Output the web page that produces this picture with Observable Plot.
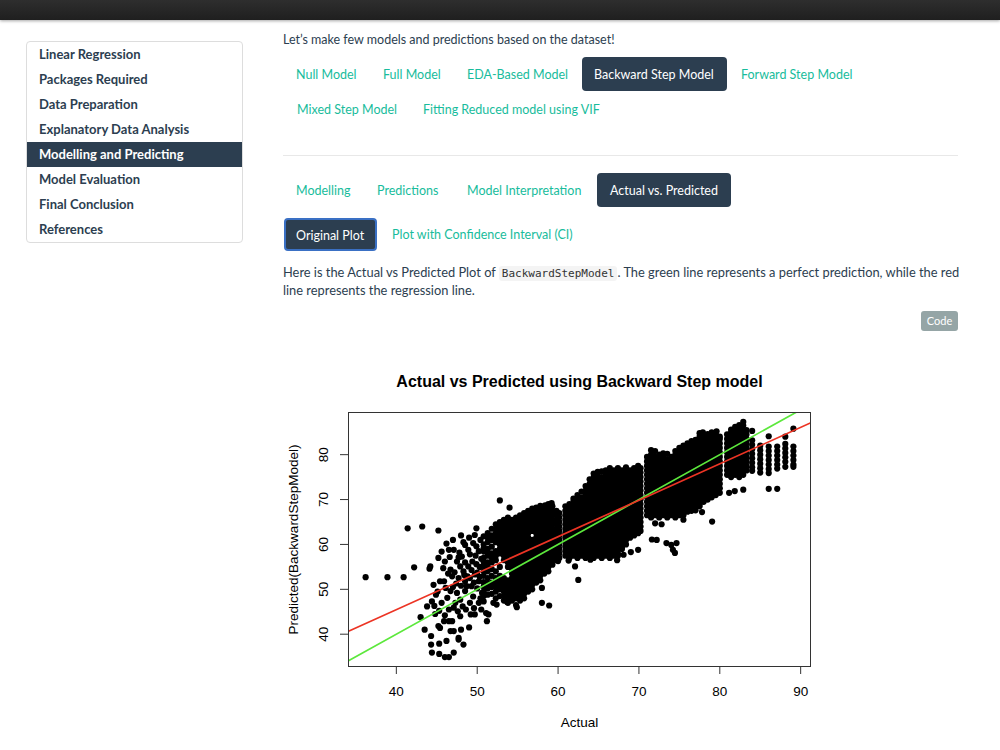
<!DOCTYPE html>
<html><head><meta charset="utf-8">
<script src="https://cdn.jsdelivr.net/npm/d3@7"></script>
<script src="https://cdn.jsdelivr.net/npm/@observablehq/plot@0.6"></script>
<style>
body{margin:0;width:1000px;height:750px;overflow:hidden;background:#fff;font-family:Lato,"Noto Sans",sans-serif;color:#2c3e50;position:relative}
.abs{position:absolute;white-space:nowrap}
.t{position:absolute;white-space:nowrap;font-size:12.5px;line-height:16px;margin-top:1px}
.link{color:#18bc9c}
.pill{position:absolute;background:#2c3e50;border-radius:4px;color:#fff;font-size:12.5px;display:flex;align-items:center;box-sizing:border-box;white-space:nowrap;padding-top:1px}
#navbar{position:absolute;left:0;top:0;width:1000px;height:20px;background:linear-gradient(#2e2e2e,#1f1f1f);box-shadow:0 1px 3px rgba(0,0,0,.35);z-index:5}
#side{position:absolute;left:26px;top:41px;width:217px;height:202px;border:1px solid #ddd;border-radius:4px;box-sizing:border-box}
.si{position:absolute;left:0;width:215px;height:25px;font-size:13px;font-weight:700;line-height:25px;padding-left:12px;box-sizing:border-box;color:#2c3e50}
.si.active{background:#2c3e50;color:#fff}
code{font-family:"DejaVu Sans Mono",monospace;font-size:11px;background:#f4f4f4;padding:1px 3px;border-radius:3px;color:#333}
</style></head>
<body>
<div id="navbar"></div>
<div id="side"></div>

<div class="t" style="left:283px;top:31px">Let’s make few models and predictions based on the dataset!</div>

<div class="t link" style="left:296px;top:66px">Null Model</div>
<div class="t link" style="left:383px;top:66px">Full Model</div>
<div class="t link" style="left:467px;top:66px">EDA-Based Model</div>
<div class="pill" style="left:582px;top:57px;width:145px;height:34px;padding-left:12px">Backward Step Model</div>
<div class="t link" style="left:741px;top:66px">Forward Step Model</div>
<div class="t link" style="left:297px;top:101px">Mixed Step Model</div>
<div class="t link" style="left:423px;top:101px">Fitting Reduced model using VIF</div>

<div class="abs" style="left:283px;top:155px;width:675px;height:1px;background:#e8e8e8"></div>

<div class="t link" style="left:296px;top:182px">Modelling</div>
<div class="t link" style="left:377px;top:182px">Predictions</div>
<div class="t link" style="left:467px;top:182px">Model Interpretation</div>
<div class="pill" style="left:597px;top:173px;width:134px;height:34px;padding-left:13px">Actual vs. Predicted</div>

<div class="pill" style="left:284px;top:218px;width:93px;height:33px;padding-left:10px;border:2px solid #3a70c4">Original Plot</div>
<div class="t link" style="left:392px;top:226px">Plot with Confidence Interval (CI)</div>

<div class="t" style="left:283px;top:263px;font-size:12.85px;color:#2c3e50">Here is the Actual vs Predicted Plot of <code>BackwardStepModel</code>. The green line represents a perfect prediction, while the red</div>
<div class="t" style="left:283px;top:281px;font-size:12.85px;color:#2c3e50">line represents the regression line.</div>

<div class="abs" style="left:921px;top:311px;width:37px;height:20px;background:#95a5a6;border-radius:3px;color:#fff;font-size:11px;line-height:20px;text-align:center">Code</div>

<div id="chart" style="position:absolute;left:268px;top:360px"></div>

<script>
// ---- page text ----
const sidebarItems = ["Linear Regression","Packages Required","Data Preparation","Explanatory Data Analysis","Modelling and Predicting","Model Evaluation","Final Conclusion","References"];
const activeSidebar = "Modelling and Predicting";

// ---- chart text ----
const chartTitle = "Actual vs Predicted using Backward Step model";
const xLabel = "Actual";
const yLabel = "Predicted(BackwardStepModel)";
const xTicks = [40, 50, 60, 70, 80, 90];
const yTicks = [40, 50, 60, 70, 80];

// regression line (red): predicted = a + b * actual ; green line: predicted = actual
const regIntercept = 13.0;
const regSlope = 0.812;

// ---- scatter values (actual, predicted) ----
const scatteredLow = `36.2 52.7,38.9 52.7,40.9 52.7,41.4 63.6,43.2 64.0,45.2 63.1,42.2 54.9,44.1 54.6,44.2 55.1,43.0 43.8,43.5 41.0,44.3 39.6,44.3 37.7,44.4 35.9,45.3 37.9,45.3 35.6,46.0 34.9,46.5 34.9,47.1 35.9,48.3 37.7,47.7 39.2,46.7 40.7,45.2 41.8,45.9 42.9,46.9 42.9,47.9 44.0,49.2 44.4,49.7 44.4,44.4 47.3,43.8 46.2,44.9 48.8,45.6 47.0,46.3 48.1,46.5 45.5,47.1 45.9,46.7 49.6,47.5 49.2,47.9 47.7,48.5 49.6,45.4 51.8,45.9 51.8,46.9 52.9,45.8 54.7,46.7 54.4,45.2 57.0,45.6 58.4,46.5 58.8,47.1 58.8,46.0 56.2,47.5 56.2,48.1 57.3,48.5 59.9,48.9 58.8,49.5 60.3,49.7 62.1,49.9 63.6,48.3 54.0,48.9 55.1,49.1 52.5,49.7 53.3,50.2 51.8,49.3 50.7,48.5 51.8,49.5 48.4,50.6 49.2,50.2 47.0,48.7 50.7,47.7 52.5,47.9 55.1,49.0 41.5,48.0 41.0,46.2 38.5,44.8 44.5,47.3 47.0,48.2 46.2,49.8 57.5,49.4 56.2,50.3 55.0,50.2 58.5,47.0 61.0,48.0 62.0,49.0 61.5,50.4 61.0,45.4 41.4,46.5 42.9,47.7 38.8,47.1 40.7,51.4 44.4,47.0 50.5,47.4 51.3,48.0 50.8,48.8 52.9,49.3 54.3,49.9 55.6,50.0 53.7,49.6 51.5,48.4 53.2,47.2 53.8,46.4 53.5,46.1 50.3,45.1 49.5,44.6 51.0,47.8 58.2,48.3 60.5,47.7 57.1,49.1 57.8,49.9 59.6,46.2 60.2,46.6 57.2,48.5 56.0,50.0 50.2,50.4 48.0,49.1 47.0,48.6 45.5,47.6 45.1,46.0 44.2,45.3 45.2,44.7 46.3,49.6 45.8,50.5 45.5,50.3 52.8,50.5 56.8`;
const scatteredMid = `52.8 69.8,54.0 68.2,58.0 47.0,58.9 46.4,54.9 46.0,53.7 47.2,52.4 46.6,52.0 47.0,51.1 44.7,51.2 42.9,56.8 67.3,57.6 68.1,58.4 68.7,59.2 69.2,58.0 50.3,60.0 56.3,62.1 55.1,62.5 52.1,68.1 57.7,69.0 58.3,69.9 58.8,67.3 56.5,64.0 56.6,61.3 56.4`;
const scatteredHigh = `71.6 61.1,72.2 61.0,73.4 60.3,74.0 59.9,74.65 60.3,74.2 58.8,74.45 58.1,79.05 65.1,72.0 64.7,72.8 64.5,75.5 65.5,77.8 67.2,71.5 81.0,77.9 85.0,79.6 85.2,81.15 71.5,81.85 71.9,82.9 72.2`;

// dense stacks: "actual: predicted predicted ..."
const stacks = `
50.8: 47.3 48.5 49.5 50.6 51.6 53 54 55.2 56.1 57 58.4 59.2 60 61.8
51.3: 48.8 50.2 51.3 52.5 54 55 56 57.5 58.2 59 60.5 61.5 62.5
51.8: 49 50.5 51.5 53 54.5 56 57 58 59.5 61 62 63.5
52.3: 48 49.5 50.5 51.5 52.5 54 56.5 57.5 58.5 60.5 61.5 62.5 63.5 64.5
52.8: 48.5 50 51 52 53 55 58 59 60 61 62 63 64 65
53.3: 47.5 48.5 49.5 50.5 51.5 52.5 56.5 57.5 58.5 59.5 60.5 61.5 62.5 63.5 64.5 65.5
53.8: 47 48 49 50 51 52 55 56 57 58 59 60 61 62 63 64 65 66
54.3: 47.5 48.5 49.5 50.5 51.5 52.5 53.5 54.5 55.5 56.5 57.5 58.5 59.5 60.5 61.5 62.5 63.5 64.5 65.5
54.8: 46.5 48 49 50 51 52 53 54 55 56 57 58 59 60 61 62 63 64 65 66
55.3: 47.5 48.5 49.5 50.5 51.5 52.5 53.5 54.5 55.5 56.5 57.5 58.5 59.5 60.5 61.5 62.5 63.5 64.5 65.5 66.5
55.8: 48 49 50 51 52 53 54 55 56 57 58 59 60 61 62 63 64 65 66 67
56.3: 49.5 50.5 51.5 52.5 53.5 54.5 55.5 56.5 57.5 58.5 59.5 60.5 61.5 62.5 63.5 64.5 65.5 66.5 67.5
56.8: 50 51 52 53 54 55 56 57 58 59 60 61 63 64 65 66 67 68
57.3: 51.5 52.5 53.5 54.5 55.5 56.5 57.5 58.5 59.5 60.5 61.5 62.5 63.5 64.5 65.5 66.5 67.5 68.2
57.8: 52 53 54 55 56 57 58 59 60 61 62 63 64 65 66 67 68 68.6
58.3: 53.5 54.5 55.5 56.5 57.5 58.5 59.5 60.5 61.5 62.5 63.5 64.5 65.5 66.5 67.5 68.5
58.8: 54 55 56 57 58 59 60 61 62 63 64 65 66 67 68 69
59.3: 55.5 56.5 57.5 58.5 59.5 60.5 61.5 62.5 63.5 64.5 65.5 66.5 67.5 68.5
59.8: 56.5 57.5 58.5 59.5 60.5 61.5 62.5 63.5 64.5 65.5 66.5 67.5
60.15: 57 58 59 60 61 62 63 64 65 66 67
60.9: 57.5 58.5 59.5 60.5 61.5 62.5 63.5 64.5 65.5 66.5 67.5 68.5
61.4: 57 58 59 60 61 62 63 64 65 66 67 68 69
61.9: 57.5 58.5 59.5 60.5 61.5 62.5 63.5 64.5 65.5 66.5 67.5 68.5 69.5 70.2
62.4: 57 58 59 60 61 62 63 64 65 66 67 68 69 70 71
62.9: 57.5 58.5 59.5 60.5 61.5 62.5 63.5 64.5 65.5 66.5 67.5 68.5 69.5 70.5 71.8
63.4: 57 58 59 60 61 62 63 64 65 66 67 68 69 70 71 72 73
63.9: 57.5 58.5 59.5 60.5 61.5 62.5 63.5 64.5 65.5 66.5 67.5 68.5 69.5 70.5 71.5 72.5 73.5 74.5
64.4: 57 58 59 60 61 62 63 64 65 66 67 68 69 70 71 72 73 74 75 75.8
64.9: 57.5 58.5 59.5 60.5 61.5 62.5 63.5 64.5 65.5 66.5 67.5 68.5 69.5 70.5 71.5 72.5 73.5 74.5 75.5 76.2
65.4: 57 58 59 60 61 62 63 64 65 66 67 68 69 70 71 72 73 74 75 76.3
65.9: 57.5 58.5 59.5 60.5 61.5 62.5 63.5 64.5 65.5 66.5 67.5 68.5 69.5 70.5 71.5 72.5 73.5 74.5 75.5 76.5
66.4: 57 58 59 60 61 62 63 64 65 66 67 68 69 70 71 72 73 74 75 76 77
66.9: 57.5 58.5 59.5 60.5 61.5 62.5 63.5 64.5 65.5 66.5 67.5 68.5 69.5 70.5 71.5 72.5 73.5 74.5 75.5 76.5
67.4: 57.5 58 59 60 61 62 63 64 65 66 67 68 69 70 71 72 73 74 75 76 77
67.9: 59 59.5 60.5 61.5 62.5 63.5 64.5 65.5 66.5 67.5 68.5 69.5 70.5 71.5 72.5 73.5 74.5 75.5 76.5
68.4: 60 61 62 63 64 65 66 67 68 69 70 71 72 73 74 75 76 77.2
68.9: 61.5 62.5 63.5 64.5 65.5 66.5 67.5 68.5 69.5 70.5 71.5 72.5 73.5 74.5 75.5 76.5
69.4: 62 63 64 65 66 67 68 69 70 71 72 73 74 75 76 77
69.9: 62.5 63.5 64.5 65.5 66.5 67.5 68.5 69.5 70.5 71.5 72.5 73.5 74.5 75.5 76.5 77.5
70.2: 63 64 65 66 67 68 69 70 71 72 73 74 75 76 77
71.0: 66.5 67.5 68.5 69.5 70.5 71.5 72.5 73.5 74.5 75.5 76.5 77.5 78.5 79.5
71.5: 66 67 68 69 70 71 72 73 74 75 76 77 78 79 80
72.0: 66.5 67.5 68.5 69.5 70.5 71.5 72.5 73.5 74.5 75.5 76.5 77.5 78.5 79.5 80.8
72.5: 66 67 68 69 70 71 72 73 74 75 76 77 78 79 80
73.0: 66.5 67.5 68.5 69.5 70.5 71.5 72.5 73.5 74.5 75.5 76.5 77.5 78.5 79.5 80.3
73.5: 66 67 68 69 70 71 72 73 74 75 76 77 78 79 80.2
74.0: 66.5 67.5 68.5 69.5 70.5 71.5 72.5 73.5 74.5 75.5 76.5 77.5 78.5 79.5
74.5: 66 67 68 69 70 71 72 73 74 75 76 77 78 79 80 80.8
75.0: 66.5 67.5 68.5 69.5 70.5 71.5 72.5 73.5 74.5 75.5 76.5 77.5 78.5 79.5 80.5 81.5
75.5: 66.5 67 68 69 70 71 72 73 74 75 76 77 78 79 80 81 82
76.0: 67.3 68.5 69.5 70.5 71.5 72.5 73.5 74.5 75.5 76.5 77.5 78.5 79.5 80.5 81.5 82.5
76.5: 67.5 68 69 70 71 72 73 74 75 76 77 78 79 80 81 82 83
77.0: 67.6 68.5 69.5 70.5 71.5 72.5 73.5 74.5 75.5 76.5 77.5 78.5 79.5 80.5 81.5 82.5 83.3
77.5: 68.5 69 70 71 72 73 74 75 76 77 78 79 80 81 82 83 84 84.8
78.0: 69.5 70.5 71.5 72.5 73.5 74.5 75.5 76.5 77.5 78.5 79.5 80.5 81.5 82.5 83.5 84.5
78.5: 70 71 72 73 74 75 76 77 78 79 80 81 82 83 84 84.6
79.0: 70.5 71.5 72.5 73.5 74.5 75.5 76.5 77.5 78.5 79.5 80.5 81.5 82.5 83.5 84.5 85
79.5: 71 72 73 74 75 76 77 78 79 80 81 82 83 84 84.7
80.0: 71.5 72.5 73.5 74.5 75.5 76.5 77.5 78.5 79.5 80.5 81.5 82.5 83.5 84
80.9: 75.5 76.5 77.5 78.5 79.5 80.5 81.5 82.5 83.5 84.5
81.4: 75 76 77 78 79 80 81 82 83 84 85 85.6
81.9: 75.5 76.5 77.5 78.5 79.5 80.5 81.5 82.5 83.5 84.5 85.5 86.2
82.4: 75 76 77 78 79 80 81 82 83 84 85 86 86.6
82.9: 75.5 76.5 77.5 78.5 79.5 80.5 81.5 82.5 83.5 84.5 85.5 86.5 87.3
83.3: 76.5 77.5 78.5 79.5 80.5 81.5 82.5 83.5 84.5 85.5
84.0: 76.4 77.2 78.2 79.2 80.2 81.2 82.2 83.2 85.3
85.0: 76 77 78 79 80 81 82
86.05: 72.4 75.9 76.8 77.8 78.8 79.8 80.8 81.8 84.1
87.1: 72.4 76.9 77.8 78.8 79.8 80.8 81.8
88.1: 77.3 78.4 79.4 80.4 81.4 82.4 84
89.1: 77.3 77.8 78.8 79.8 80.8 81.8 85.8`;

// ---- sidebar ----
const side = document.getElementById("side");
sidebarItems.forEach((s, i) => {
  const d = document.createElement("div");
  d.className = "si" + (s === activeSidebar ? " active" : "");
  d.style.top = (i * 25) + "px";
  d.textContent = s;
  side.appendChild(d);
});

// ---- parse values ----
const points = [];
for (const grp of [scatteredLow, scatteredMid, scatteredHigh]) {
  for (const pair of grp.split(",")) {
    const [a, p] = pair.trim().split(/\s+/).map(Number);
    points.push({actual: a, predicted: p});
  }
}
for (const line of stacks.trim().split("\n")) {
  const [a, rest] = line.split(":");
  for (const p of rest.trim().split(/\s+/)) points.push({actual: +a, predicted: +p});
}

// R-style 4% axis expansion
function rDomain(vals) {
  const [lo, hi] = d3.extent(vals);
  const pad = (hi - lo) * 0.04;
  return [lo - pad, hi + pad];
}
const xDomain = rDomain(points.map(d => d.actual));
const yDomain = rDomain(points.map(d => d.predicted));

const perfectLine = xDomain.map(v => ({actual: v, predicted: v}));
const regLine = xDomain.map(v => ({actual: v, predicted: regIntercept + regSlope * v}));

const chart = Plot.plot({
  width: 560,
  height: 376,
  marginLeft: 80,
  marginRight: 18,
  marginTop: 52,
  marginBottom: 70,
  x: {domain: xDomain},
  y: {domain: yDomain},
  style: {background: "transparent", color: "black", fontFamily: "'Liberation Sans', Arial, sans-serif", fontSize: "13.5px", overflow: "visible"},
  marks: [
    Plot.dot(points, {x: "actual", y: "predicted", r: 3.1, fill: "black"}),
    Plot.line(perfectLine, {x: "actual", y: "predicted", stroke: "#5ce83c", strokeWidth: 1.7, clip: true}),
    Plot.line(regLine, {x: "actual", y: "predicted", stroke: "#ec3424", strokeWidth: 1.7, clip: true}),
    Plot.frame({stroke: "#333", strokeWidth: 1}),
    Plot.axisX({ticks: xTicks, tickSize: 8, tickFormat: () => "", label: null, stroke: "#333"}),
    Plot.axisY({ticks: yTicks, tickSize: 8, tickFormat: () => "", label: null, stroke: "#333"}),
    Plot.text(xTicks, {x: d => d, frameAnchor: "bottom", dy: 25, text: d => String(d), textAnchor: "middle", lineAnchor: "middle", fontSize: 13.5, fill: "black"}),
    Plot.text(yTicks, {y: d => d, frameAnchor: "left", dx: -25, rotate: -90, text: d => String(d), textAnchor: "middle", lineAnchor: "middle", fontSize: 13.5, fill: "black"}),
    Plot.text([xLabel], {frameAnchor: "bottom", dy: 56, text: d => d, textAnchor: "middle", lineAnchor: "middle", fontSize: 13.5, fill: "black"}),
    Plot.text([yLabel], {frameAnchor: "left", dx: -55, rotate: -90, text: d => d, textAnchor: "middle", lineAnchor: "middle", fontSize: 13.5, fill: "black"}),
    Plot.text([chartTitle], {frameAnchor: "top", dy: -31, text: d => d, textAnchor: "middle", lineAnchor: "middle", fontSize: 16, fontWeight: "bold", fill: "black"})
  ]
});
document.getElementById("chart").appendChild(chart);
</script>
</body></html>
